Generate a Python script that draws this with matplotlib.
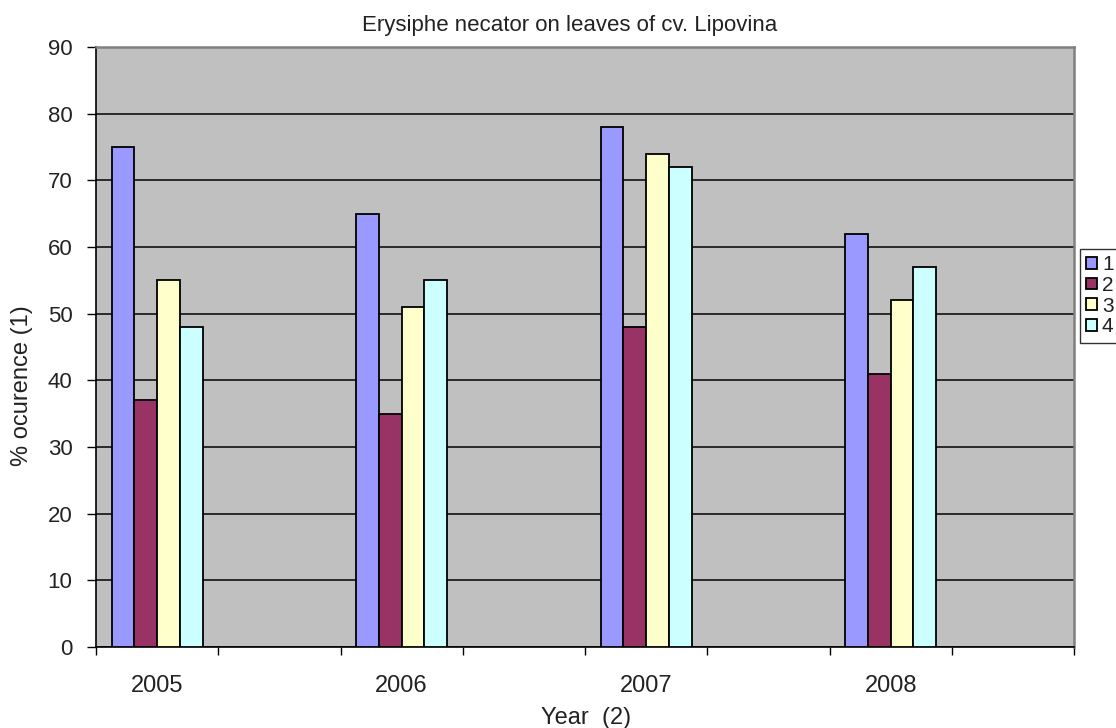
import matplotlib.pyplot as plt
import numpy as np

plt.rcParams['font.family'] = ['Liberation Sans', 'DejaVu Sans']

years = ['2005', '2006', '2007', '2008']
series_names = ['1', '2', '3', '4']
s1 = [75, 65, 78, 62]
s2 = [37, 35, 48, 41]
s3 = [55, 51, 74, 52]
s4 = [48, 55, 72, 57]
colours = ['#9999ff', '#993366', '#ffffcc', '#ccffff']

W, H = 1116, 728
fig = plt.figure(figsize=(W / 100, H / 100), dpi=100)
ax = fig.add_axes([96 / W, 1 - 647 / H, (1074 - 96) / W, (647 - 47) / H])
ax.set_facecolor('#c0c0c0')

# 8 category slots, data sits in every other one
n_slots = 8
centres = np.arange(len(years)) * 2 + 0.5
bw = 0.186
for k, (vals, c, name) in enumerate(zip([s1, s2, s3, s4], colours, series_names)):
    ax.bar(centres + (k - 1.5) * bw, vals, width=bw, color=c,
           edgecolor='black', linewidth=1.3, label=name, zorder=3)

ax.set_xlim(0, n_slots)
ax.set_ylim(0, 90)
ax.set_yticks(np.arange(0, 91, 10))
ax.yaxis.grid(True, color='#111111', linewidth=1.2, zorder=1)
ax.set_axisbelow(True)

ax.set_xticks(np.arange(0, n_slots + 1))
ax.set_xticklabels([])
ax.set_xticks(centres, minor=True)
ax.set_xticklabels(years, minor=True)
ax.tick_params(axis='x', which='minor', length=0, pad=20, labelsize=17, labelcolor='#222222')
ax.tick_params(axis='x', which='major', length=6, width=1, direction='out')
ax.tick_params(axis='y', length=6.5, width=1, direction='out', labelsize=16,
               pad=10.5, labelcolor='#222222')

for s in ['top', 'right']:
    ax.spines[s].set_color('#808080')
    ax.spines[s].set_linewidth(1.8)
ax.spines['left'].set_linewidth(1.2)
ax.spines['bottom'].set_linewidth(1.2)

fig.text(570 / W, 1 - 25 / H, 'Erysiphe necator on leaves of cv. Lipovina',
         ha='center', va='center', fontsize=16, color='#222222')
fig.text(22 / W, 1 - 386 / H, '% ocurence (1)', rotation=90,
         ha='center', va='center', fontsize=17, color='#222222')
fig.text(586 / W, 1 - 718 / H, 'Year  (2)', ha='center', va='center',
         fontsize=17, color='#222222')

leg = fig.legend(loc='upper left', bbox_to_anchor=(1080 / W, 1 - 249 / H),
                 frameon=True, fancybox=False, edgecolor='black', fontsize=15,
                 handlelength=0.5, handleheight=0.5, handletextpad=0.25,
                 borderpad=0.3, labelspacing=0.08, borderaxespad=0)
leg.get_frame().set_linewidth(1)
for t in leg.get_texts():
    t.set_color('#222222')

fig.savefig('out.png', dpi=100)
